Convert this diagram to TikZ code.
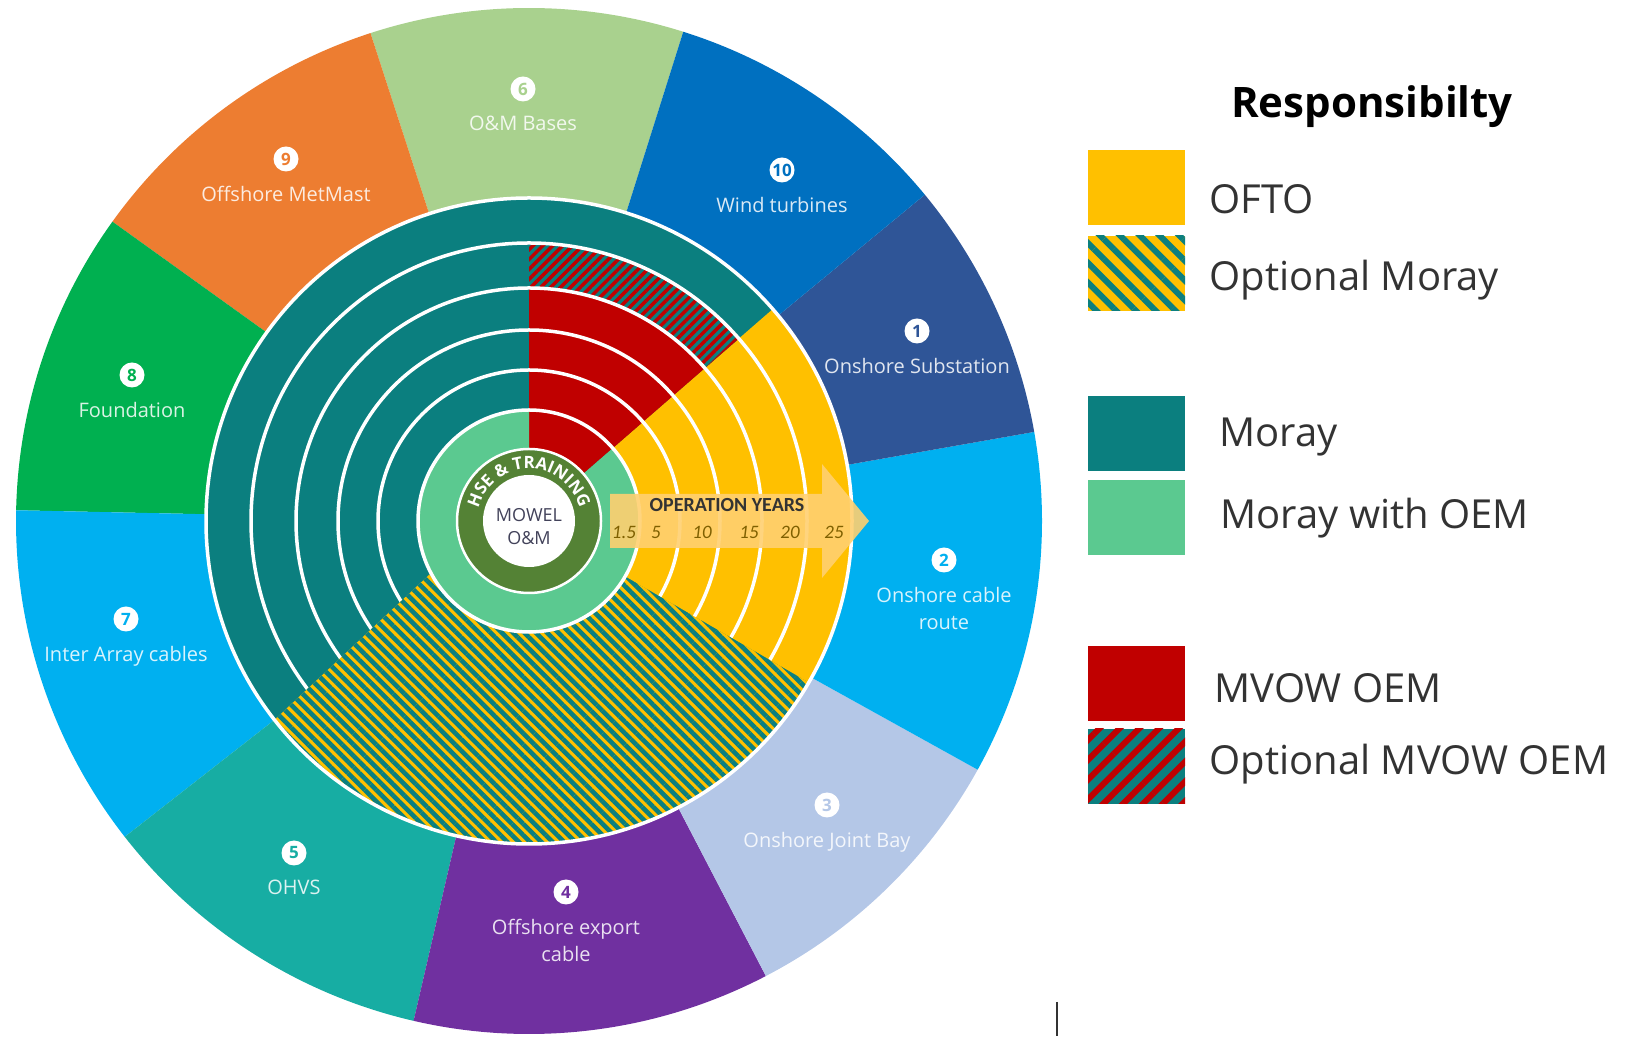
\documentclass[tikz,border=0pt]{standalone}
\usepackage{fontspec}
\setmainfont{Open Sans}
\newfontfamily\calfont{Carlito}
\usetikzlibrary{patterns.meta,decorations.text}

\definecolor{omb}{HTML}{A9D18E}
\definecolor{metmast}{HTML}{ED7D31}
\definecolor{found}{HTML}{00B050}
\definecolor{skyblue}{HTML}{00B0F0}
\definecolor{ohvs}{HTML}{17ADA3}
\definecolor{purp}{HTML}{7030A0}
\definecolor{jointbay}{HTML}{B4C7E7}
\definecolor{substn}{HTML}{2F5597}
\definecolor{turb}{HTML}{0070C0}
\definecolor{moray}{HTML}{0B7F7F}
\definecolor{morayoem}{HTML}{5BC990}
\definecolor{mvow}{HTML}{C00000}
\definecolor{ofto}{HTML}{FFC000}
\definecolor{hse}{HTML}{548235}
\definecolor{legtext}{HTML}{333333}
\definecolor{centretext}{HTML}{42425A}
\definecolor{yeartext}{HTML}{7F6000}
\definecolor{arrowfill}{HTML}{FFD070}

\tikzset{
  seglabel/.style={text=white, text opacity=0.85, align=center, inner sep=0pt, anchor=north,
    font=\fontsize{20}{27}\selectfont},
  segnum/.style={circle, fill=white, inner sep=0pt, minimum size=25pt,
    font=\fontsize{17}{17}\selectfont\bfseries},
  ringline/.style={white, line width=3.5pt},
  legbox/.style={minimum width=97pt, minimum height=75pt, inner sep=0pt},
  legtxt/.style={anchor=west, text=legtext, font=\fontsize{40}{48}\selectfont},
  legofto/.style={fill=ofto},
  legoptmoray/.style={fill=ofto, postaction={pattern={Lines[angle=-45,distance=14pt,line width=6pt]}, pattern color=moray}},
  legmoray/.style={fill=moray},
  legmorayoem/.style={fill=morayoem},
  legmvow/.style={fill=mvow},
  legoptmvow/.style={fill=moray, postaction={pattern={Lines[angle=45,distance=14pt,line width=6pt]}, pattern color=mvow}},
}

\begin{document}
\begin{tikzpicture}[x=1pt, y=1pt, line join=round]
\useasboundingbox (0,0) rectangle (1641,1036);
\begin{scope}[shift={(529,515)}]
  \coordinate (O) at (0,0);
  % outer ring of activities
  \foreach \a/\b/\c in {72.5/108/omb, 108/144.3/metmast, 144.3/178.8/found, 178.8/218/skyblue,
      218/257/ohvs, 257/297.5/purp, 297.5/331/jointbay, 331/370/skyblue, 10/39.5/substn, 39.5/72.5/turb}{
    \fill[\c] (O) -- (\a:513) arc[start angle=\a, end angle=\b, radius=513] -- cycle;
  }
  % responsibility rings
  \fill[moray] (O) circle[radius=323];
  \fill[ofto] (-30:111) -- (-30:323) arc[start angle=-30, end angle=41, radius=323]
    -- (41:111) arc[start angle=41, end angle=-30, radius=111] -- cycle;
  \fill[mvow] (41:72) -- (41:233) arc[start angle=41, end angle=90, radius=233]
    -- (90:72) arc[start angle=90, end angle=41, radius=72] -- cycle;
  \path[fill=moray, postaction={pattern={Lines[angle=45,distance=7pt,line width=3.5pt]}, pattern color=mvow}]
    (41:233) -- (41:278) arc[start angle=41, end angle=90, radius=278]
    -- (90:233) arc[start angle=90, end angle=41, radius=233] -- cycle;
  \fill[morayoem] (90:72) arc[start angle=90, end angle=401, radius=72]
    -- (41:111) arc[start angle=401, end angle=90, radius=111] -- cycle;
  \foreach \r in {151,191,233,278}{
    \draw[ringline] (O) circle[radius=\r];
  }
  \path[fill=ofto, postaction={pattern={Lines[angle=-45,distance=8pt,line width=4.6pt]}, pattern color=moray}]
    (208:111) -- (218:323) arc[start angle=218, end angle=330, radius=323]
    -- (330:111) arc[start angle=330, end angle=208, radius=111] -- cycle;
  \draw[ringline] (O) circle[radius=111] (O) circle[radius=323];
  \fill[hse] (O) circle[radius=71];
  \draw[white, line width=2.5pt] (O) circle[radius=72];
  \fill[white] (O) circle[radius=46];
  \path[decorate, decoration={text along path, text align=center,
      text={|\fontsize{17}{17}\selectfont\bfseries\color{white}|HSE {\&} TRAINING}}]
    (168:52) arc[start angle=168, end angle=12, radius=52];
  \node[align=center, text=centretext, font=\fontsize{18}{23}\selectfont] (mowel) at (0,-6) {MOWEL\\O\&M};
  % operation years arrow
  \fill[arrowfill, opacity=0.9] (81,-27) -- (293,-27) -- (293,-57) -- (340,0) -- (293,57) -- (293,27) -- (81,27) -- cycle;
  \node[font=\calfont\bfseries\fontsize{20}{20}\selectfont, text=legtext] (opyears) at (198,16) {OPERATION YEARS};
  \foreach \yr/\x [count=\i] in {1.5/95, 5/127, 10/173, 15/220, 20/261, 25/305}{
    \node[font=\calfont\itshape\fontsize{19}{19}\selectfont, text=yeartext] (yr\i) at (\x,-11) {\yr};
  }
\end{scope}
% activity labels
\foreach \n/\x/\y/\c/\t in {6/523/947/omb/{O\&M Bases}, 9/286/877/metmast/{Offshore MetMast},
    10/782/866/turb/{Wind turbines}, 1/917/705/substn/{Onshore Substation}, 8/132/661/found/{Foundation},
    2/944/476/skyblue/{Onshore cable\\route}, 7/126/417/skyblue/{Inter Array cables},
    3/827/231/jointbay/{Onshore Joint Bay}, 5/294/183/ohvs/{OHVS}, 4/566/144/purp/{Offshore export\\cable}}{
  \node[segnum, text=\c] (num\n) at (\x,\y) {\n};
  \node[seglabel] (lab\n) at (\x,\y-27) {\t};
}
% legend
\node[font=\bfseries\fontsize{42}{50}\selectfont] (resp) at (1372,929) {Responsibilty};
\foreach \s/\y/\ty/\tx/\t in {legofto/848.5/837/1206/OFTO, legoptmoray/762.5/756/1206/Optional Moray,
    legmoray/602.5/599/1216/Moray, legmorayoem/518/518/1217/Moray with OEM,
    legmvow/352/348/1211/MVOW OEM, legoptmvow/269.5/272/1206/Optional MVOW OEM}{
  \node[legbox, \s] (\s) at (1136.5,\y) {};
  \node[legtxt] (\s txt) at (\tx,\ty) {\t};
}
\coordinate (cursor) at (1057,34);
\draw[line width=2.5pt, black!80] (cursor) -- ++(0,-34);
\end{tikzpicture}
\end{document}
